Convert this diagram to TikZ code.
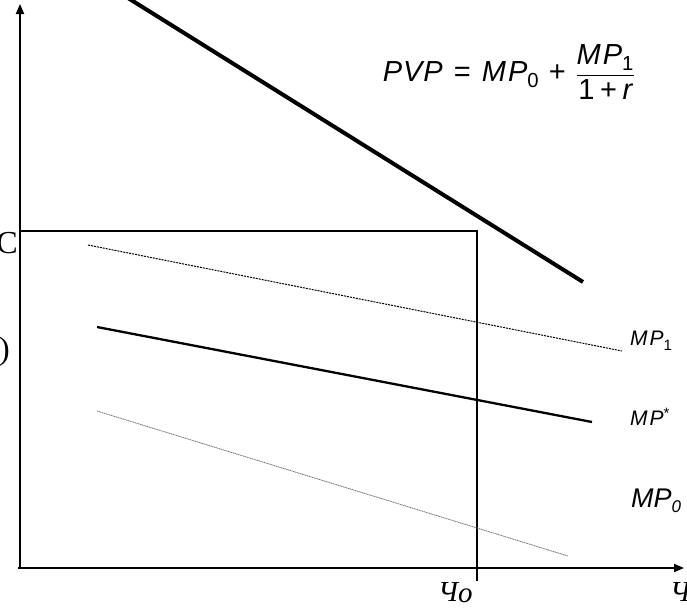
\documentclass[tikz,border=0pt]{standalone}
\usepackage{amsmath}
\usepackage{fontspec}
\setmainfont{Liberation Serif}
\newfontfamily\lsans{Liberation Sans}
\usetikzlibrary{arrows.meta}
\newcommand{\si}[1]{\text{\lsans\itshape #1}}
\newcommand{\su}[1]{\text{\lsans\upshape #1}}
\begin{document}
\begin{tikzpicture}[x=1pt,y=-1pt,
  axis/.style={line width=1.8pt,-{Triangle[length=10pt,width=8pt]}},
  frame/.style={line width=2.3pt},
  thick line/.style={line width=4pt},
  mid line/.style={line width=2.3pt},
  dot line/.style={line width=1pt,dash pattern=on 2pt off 1pt},
  faint line/.style={line width=0.8pt,black!55,dash pattern=on 1.2pt off 0.6pt},
  lab/.style={font=\lsans\itshape\fontsize{21}{24}\selectfont,inner sep=0pt},
  ch/.style={font=\itshape\fontsize{29}{32}\selectfont,inner sep=0pt}]
\useasboundingbox (0,0) rectangle (687,608);
% axes
\coordinate (O) at (20,568);
\coordinate (ytop) at (20,4);
\coordinate (xend) at (684,568);
\coordinate (xstart) at (18,568);
\draw[axis] (O) -- (ytop);
\draw[axis] (xstart) -- (xend);
% rectangle
\coordinate (rtl) at (20,231);
\coordinate (rtr) at (477,231);
\coordinate (rbr) at (477,581);
\draw[frame] (rtl) -- (rtr) -- (rbr);
% PVP line
\coordinate (p1) at (128,-2);
\coordinate (p2) at (583,282);
\draw[thick line] (p1) -- (p2);
% MP1
\coordinate (a1) at (88,245);
\coordinate (a2) at (622,351);
\draw[dot line] (a1) -- (a2);
% MP*
\coordinate (b1) at (97,327);
\coordinate (b2) at (592,422);
\draw[mid line] (b1) -- (b2);
% MP0
\coordinate (c1) at (97,411);
\coordinate (c2) at (568,556);
\draw[faint line] (c1) -- (c2);
% labels
\node[inner sep=0pt,font=\fontsize{29}{34}\selectfont] (f) at (509,72)
  {$\si{P\kern1pt V\kern1pt P}\,\mathrel{\su{=}}\,\si{M\kern2pt P}_{\su{0}}\,\mathbin{\su{+}}\,\dfrac{\si{M\kern2pt P}_{\su{1}}}{\su{1}\mathbin{\su{+}}\si{r}}$};
\node[lab,anchor=base west] (l1) at (630,345) {M\kern2pt P\raisebox{-5pt}{\upshape\fontsize{15}{15}\selectfont 1}};
\node[lab,anchor=base west] (l2) at (630,425) {M\kern2pt P\raisebox{7pt}{\upshape\fontsize{15}{15}\selectfont *}};
\node[lab,anchor=base west,font=\lsans\itshape\fontsize{27}{30}\selectfont] (l3) at (631,507) {MP\raisebox{-5pt}{\fontsize{17}{17}\selectfont 0}};
\node[font=\fontsize{32}{34}\selectfont,anchor=east,inner sep=0pt] (mc) at (18,243) {C};
\node[font=\fontsize{32}{34}\selectfont,anchor=east,inner sep=0pt] (pr) at (10,352) {)};
\node[ch,anchor=base west] (q0) at (438,601) {Ч\raisebox{-1pt}{o}};
\node[ch,anchor=base west] (q) at (670,601) {Ч};
\end{tikzpicture}
\end{document}
